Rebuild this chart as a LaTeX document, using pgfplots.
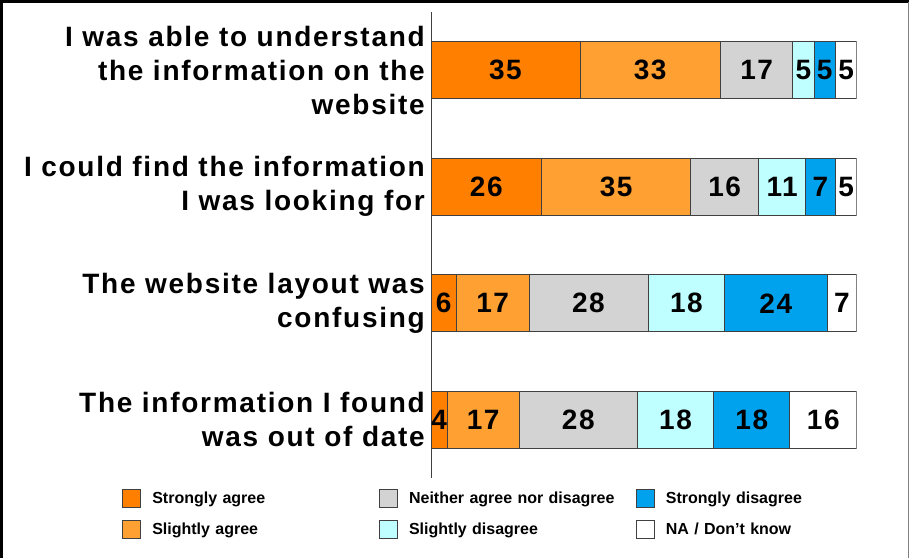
\documentclass[border=0pt]{standalone}
\usepackage{fontspec}
\setmainfont{Liberation Sans}
\usepackage{pgfplots}
\usepackage{pgfplotstable}
\pgfplotsset{compat=1.18}
\definecolor{cSA}{HTML}{FF8000}
\definecolor{cSlA}{HTML}{FFA033}
\definecolor{cN}{HTML}{D3D3D3}
\definecolor{cSlD}{HTML}{C0FFFF}
\definecolor{cSD}{HTML}{00A2EE}
\definecolor{cNA}{HTML}{FFFFFF}
\definecolor{edge}{HTML}{404040}
\newfontfamily\bigfont[LetterSpace=5.5]{Liberation Sans}
\newfontfamily\labfont[LetterSpace=6.2]{Liberation Sans}
\pgfplotstableread{
y v l
0 35 35
1 26 26
2 6 6
3 3.8 4
}\tSA
\pgfplotstableread{
y v l
0 33 33
1 35 35
2 17 17
3 16.9 17
}\tSlA
\pgfplotstableread{
y v l
0 17 17
1 16 16
2 28 28
3 27.8 28
}\tN
\pgfplotstableread{
y v l
0 5 5
1 11 11
2 18 18
3 17.9 18
}\tSlD
\pgfplotstableread{
y v l
0 5 5
1 7 7
2 24 24
3 17.9 18
}\tSD
\pgfplotstableread{
y v l
0 5 5
1 5 5
2 7 7
3 15.7 16
}\tNA
\begin{document}
\begin{tikzpicture}
\path[use as bounding box] (0,0) rectangle (910pt,-558pt);
\draw[black, line width=3pt] (1.5pt,-558pt) -- (1.5pt,-1.5pt) -- (909pt,-1.5pt);
\draw[gray, line width=1pt] (908.5pt,-1.5pt) -- (908.5pt,-558pt);
\begin{axis}[
  at={(431pt,-478pt)}, anchor=south west,
  scale only axis, width=425.7pt, height=466pt,
  xbar stacked, bar width=0.49,
  xmin=0, xmax=100, ymin=-0.5, ymax=3.5, y dir=reverse,
  axis x line=none, axis y line*=left,
  axis line style={-, draw=gray!50!black, line width=0.8pt},
  ytick={0,1,2,3}, major tick length=0pt,
  yticklabels={{I was able to understand\\the information on the\\website},{I could find the information\\I was looking for},{The website layout was\\confusing},{The information I found\\was out of date}},
  yticklabel style={align=right, inner sep=0pt, xshift=-6pt, font=\labfont\bfseries\fontsize{28}{34}\selectfont},
  point meta=explicit symbolic,
  nodes near coords,
  every node near coord/.append style={font=\bigfont\bfseries\fontsize{28}{30}\selectfont, text=black},
  every axis plot/.append style={draw=edge, line width=0.8pt},
  legend columns=3,
  legend cell align=left,
  legend image code/.code={\draw[#1, draw=edge, line width=0.8pt] (0pt,-9pt) rectangle (18pt,9pt);},
  legend style={at={(-0.7252,-0.0236)}, anchor=north west, draw=none, inner sep=0pt,
    column sep=11pt, row sep=12pt, font=\bfseries\fontsize{16}{18}\selectfont,
    nodes={text width=216pt, inner sep=0pt, align=left}},
]
\addplot[fill=cSA, forget plot] table[x=v, y=y, meta=l] {\tSA};
\addplot[fill=cSlA, forget plot] table[x=v, y=y, meta=l] {\tSlA};
\addplot[fill=cN, forget plot] table[x=v, y=y, meta=l] {\tN};
\addplot[fill=cSlD, forget plot] table[x=v, y=y, meta=l] {\tSlD};
\addplot[fill=cSD, forget plot] table[x=v, y=y, meta=l] {\tSD};
\addplot[fill=cNA, forget plot] table[x=v, y=y, meta=l] {\tNA};
\addlegendimage{fill=cSA}
\addlegendentry{Strongly agree}
\addlegendimage{fill=cN}
\addlegendentry{Neither agree nor disagree}
\addlegendimage{fill=cSD}
\addlegendentry{Strongly disagree}
\addlegendimage{fill=cSlA}
\addlegendentry{Slightly agree}
\addlegendimage{fill=cSlD}
\addlegendentry{Slightly disagree}
\addlegendimage{fill=cNA}
\addlegendentry{NA / Don't know}
\end{axis}
\end{tikzpicture}
\end{document}
